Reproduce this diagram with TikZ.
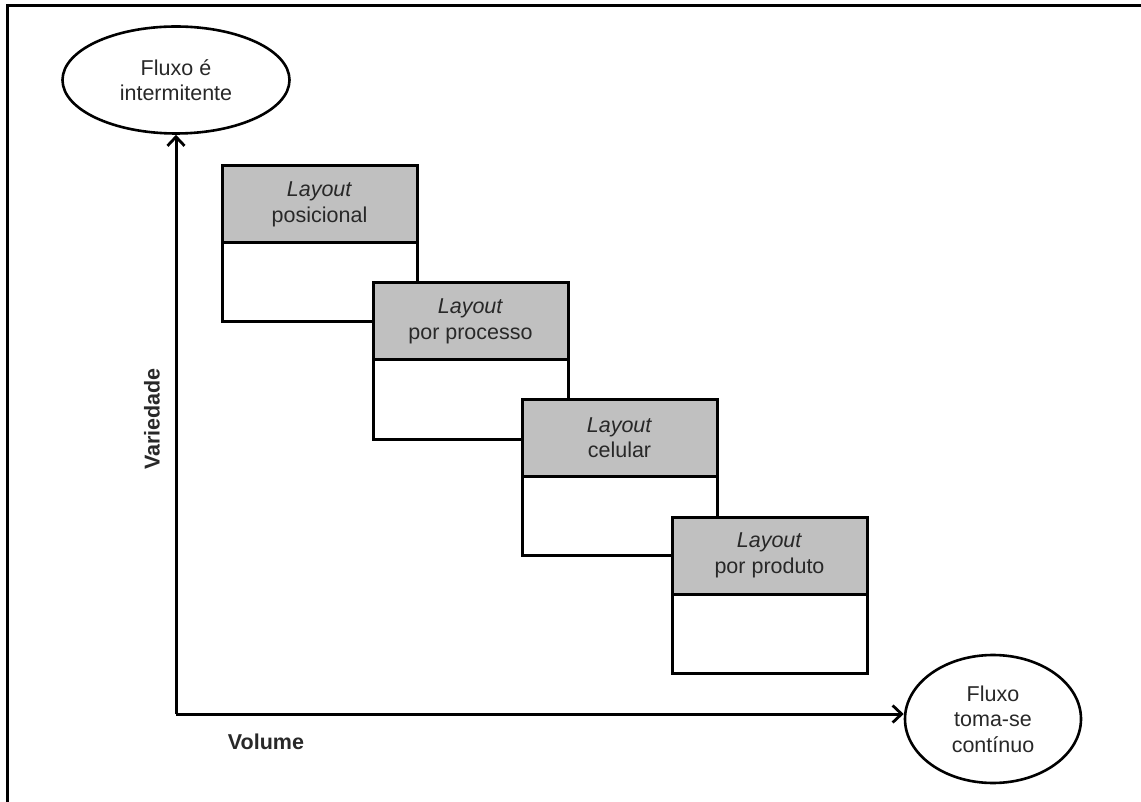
\documentclass[tikz,border=0pt]{standalone}
\usepackage{fontspec}
\setmainfont{Liberation Sans}
\usetikzlibrary{shapes.geometric,arrows.meta}
\definecolor{headgrey}{RGB}{192,192,192}
\definecolor{ink}{RGB}{40,40,40}
\begin{document}
\begin{tikzpicture}[x=1pt,y=-1pt,
  txt/.style={font=\fontsize{21.5}{25.5}\selectfont, text=ink, align=center},
  head/.style={txt, draw, line width=3pt, fill=headgrey, minimum width=195pt,
    minimum height=77pt, inner sep=0pt, outer sep=0pt, anchor=north west},
  body/.style={draw, line width=3pt, fill=white, minimum width=195pt,
    minimum height=79pt, inner sep=0pt, outer sep=0pt, anchor=north},
  oval/.style={txt, ellipse, draw, line width=2.6pt, fill=white, inner sep=0pt},
  axis/.style={line width=3pt, -{Straight Barb[length=9pt,width=17pt,line width=2.8pt]}},
  lbl/.style={font=\fontsize{21.5}{25.5}\selectfont\bfseries, text=ink}
]
\useasboundingbox (0,0) rectangle (1141,802);
% outer frame
\draw[line width=3pt] (7,802) -- (7,6) -- (1141,6);

% end-point ovals
\node[oval, minimum width=227pt, minimum height=107pt] (e1) at (176,80) {Fluxo é\\intermitente};
\node[oval, minimum width=176pt, minimum height=128pt] (e2) at (993,719) {Fluxo\\toma-se\\contínuo};

% axes
\coordinate (o) at (176,714);
\draw[axis] (o) -- (o |- e1.south);
\draw[axis] (o) -- (o -| e2.west);
\node[lbl, rotate=90] (vy) at (152,419) {Variedade};
\node[lbl] (vx) at (266,742) {Volume};

% layout types, stepping down and to the right
\node[head] (h1) at (222,166) {\textit{Layout}\\posicional};
\node[body] (b1) at (h1.south) {};
\node[head] (h2) at (373,283) {\textit{Layout}\\por processo};
\node[body] (b2) at (h2.south) {};
\node[head] (h3) at (522,399) {\textit{Layout}\\celular};
\node[body] (b3) at (h3.south) {};
\node[head] (h4) at (672,517) {\textit{Layout}\\por produto};
\node[body] (b4) at (h4.south) {};
\end{tikzpicture}
\end{document}
